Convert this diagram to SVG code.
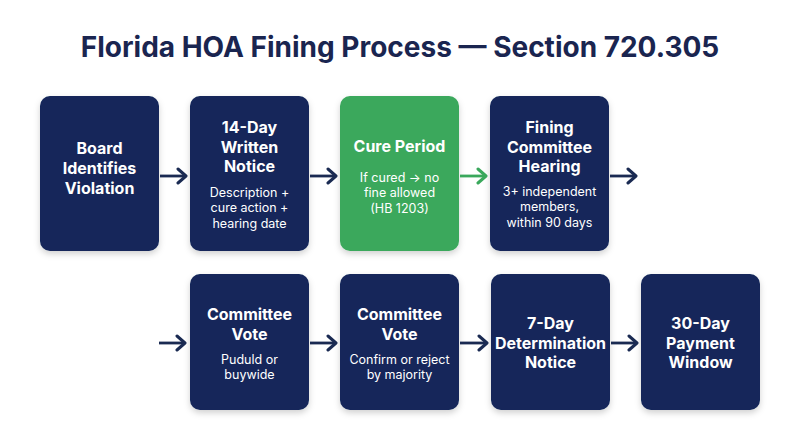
<svg xmlns="http://www.w3.org/2000/svg" width="800" height="447" viewBox="0 0 800 447">
<defs>
<filter id="sh" x="-20%" y="-20%" width="140%" height="140%">
<feDropShadow dx="0" dy="3" stdDeviation="3" flood-color="#000" flood-opacity="0.18"/>
</filter>
<marker id="ah" viewBox="0 0 14 18" refX="11" refY="9" markerWidth="14" markerHeight="18" markerUnits="userSpaceOnUse" orient="auto">
<path d="M3,2 L11,9 L3,16" fill="none" stroke="#1a2a52" stroke-width="3" stroke-linecap="round" stroke-linejoin="round"/>
</marker>
<marker id="ahg" viewBox="0 0 14 18" refX="11" refY="9" markerWidth="14" markerHeight="18" markerUnits="userSpaceOnUse" orient="auto">
<path d="M3,2 L11,9 L3,16" fill="none" stroke="#3aa85c" stroke-width="3" stroke-linecap="round" stroke-linejoin="round"/>
</marker>
</defs>
<style>
.bg{fill:#ffffff}
.box{fill:#13285a;filter:url(#sh)}
.green{fill:#3aa85c;filter:url(#sh)}
.t{font-family:Inter,"Liberation Sans",sans-serif;font-weight:700;font-size:16px;fill:#ffffff;text-anchor:middle}
.s{font-family:Inter,"Liberation Sans",sans-serif;font-weight:400;font-size:12.5px;fill:#ffffff;text-anchor:middle}
.title{font-family:Inter,"Liberation Sans",sans-serif;font-weight:700;font-size:28px;fill:#1a2550;text-anchor:middle}
.c{stroke:#1a2a52;stroke-width:2.8;fill:none;marker-end:url(#ah)}
.cg{stroke:#3aa85c;stroke-width:2.8;fill:none;marker-end:url(#ahg)}
</style>
<rect class="bg" x="0" y="0" width="800" height="447"/>
<text class="title" x="400" y="57">Florida HOA Fining Process — Section 720.305</text>

<g id="n1"><rect class="box" x="40" y="96" width="119" height="155" rx="10"/>
<text class="t" x="99.5" y="154">Board</text><text class="t" x="99.5" y="174">Identifies</text><text class="t" x="99.5" y="194">Violation</text></g>

<g id="n2"><rect class="box" x="190" y="96" width="119" height="155" rx="10"/>
<text class="t" x="249.5" y="133">14-Day</text><text class="t" x="249.5" y="153">Written</text><text class="t" x="249.5" y="172">Notice</text>
<text class="s" x="249.5" y="196.5">Description +</text><text class="s" x="249.5" y="212">cure action +</text><text class="s" x="249.5" y="227.5">hearing date</text></g>

<g id="n3"><rect class="green" x="340" y="96" width="119" height="155" rx="10"/>
<text class="t" x="399.5" y="152">Cure Period</text>
<text class="s" x="399.5" y="181.5">If cured → no</text><text class="s" x="399.5" y="197">fine allowed</text><text class="s" x="399.5" y="212.5">(HB 1203)</text></g>

<g id="n4"><rect class="box" x="490" y="96" width="119" height="155" rx="10"/>
<text class="t" x="549.5" y="133">Fining</text><text class="t" x="549.5" y="153">Committee</text><text class="t" x="549.5" y="172">Hearing</text>
<text class="s" x="549.5" y="195.5">3+ independent</text><text class="s" x="549.5" y="211">members,</text><text class="s" x="549.5" y="226.5">within 90 days</text></g>

<g id="n5"><rect class="box" x="190" y="274" width="119" height="136" rx="10"/>
<text class="t" x="249.5" y="320">Committee</text><text class="t" x="249.5" y="340">Vote</text>
<text class="s" x="249.5" y="363.5">Puduld or</text><text class="s" x="249.5" y="379">buywide</text></g>

<g id="n6"><rect class="box" x="340" y="274" width="119" height="136" rx="10"/>
<text class="t" x="399.5" y="320">Committee</text><text class="t" x="399.5" y="340">Vote</text>
<text class="s" x="399.5" y="363.5">Confirm or reject</text><text class="s" x="399.5" y="379">by majority</text></g>

<g id="n7"><rect class="box" x="491" y="274" width="119" height="136" rx="10"/>
<text class="t" x="550.5" y="329">7-Day</text><text class="t" x="550.5" y="349">Determination</text><text class="t" x="550.5" y="368">Notice</text></g>

<g id="n8"><rect class="box" x="641" y="274" width="119" height="136" rx="10"/>
<text class="t" x="700.5" y="329">30-Day</text><text class="t" x="700.5" y="349">Payment</text><text class="t" x="700.5" y="368">Window</text></g>

<g id="connectors">
<line class="c" x1="160" y1="176" x2="186" y2="176"/>
<line class="c" x1="310" y1="176" x2="336" y2="176"/>
<line class="cg" x1="460" y1="176" x2="486" y2="176"/>
<line class="c" x1="610" y1="176" x2="636" y2="176"/>
<line class="c" x1="159" y1="343" x2="185" y2="343"/>
<line class="c" x1="310" y1="343" x2="336" y2="343"/>
<line class="c" x1="460" y1="343" x2="487" y2="343"/>
<line class="c" x1="611" y1="343" x2="637" y2="343"/>
</g>
</svg>
